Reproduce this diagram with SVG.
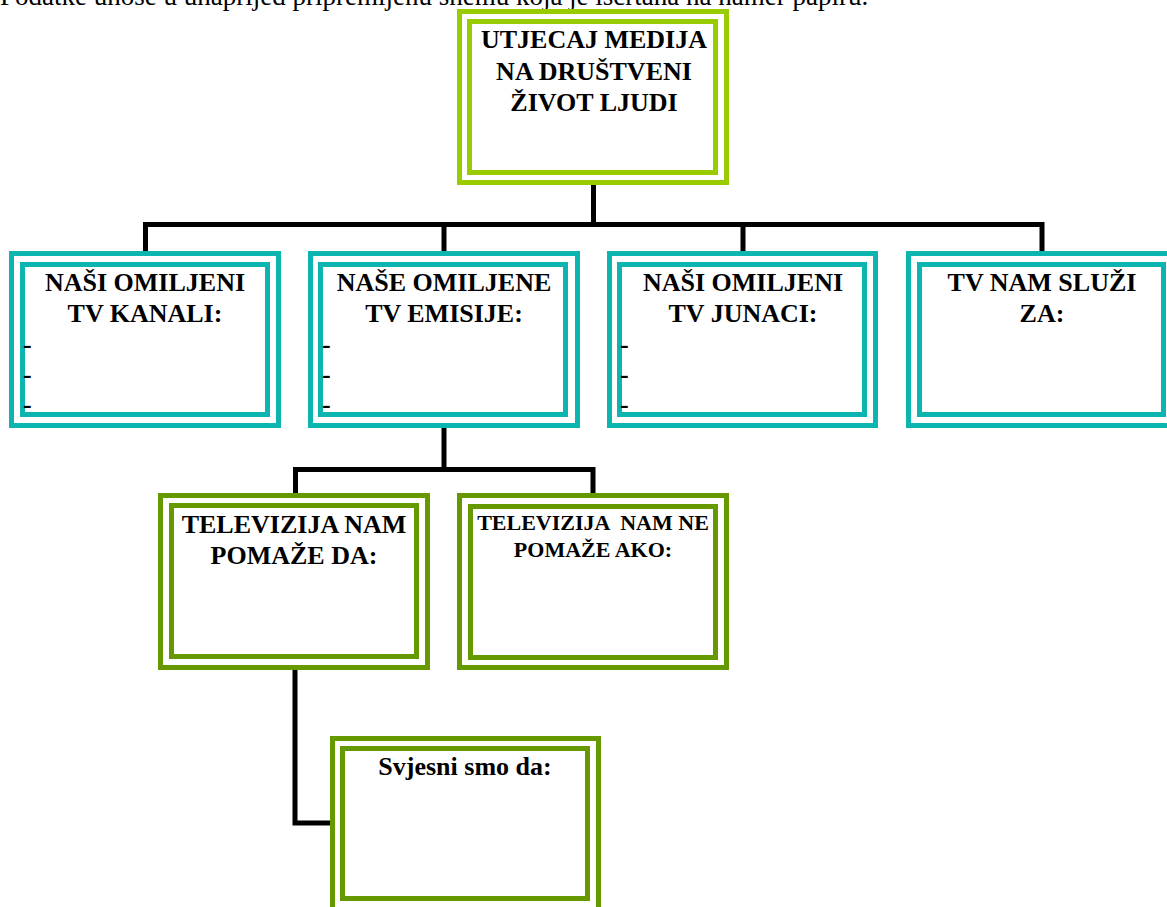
<svg xmlns="http://www.w3.org/2000/svg" width="1167" height="907" viewBox="0 0 1167 907">
<style>
.bg{fill:#ffffff}
.b{fill:#ffffff;stroke-width:5}
.lime{stroke:#99cc00}
.teal{stroke:#0db5b0}
.olive{stroke:#669900}
.t{font-family:"Liberation Serif","Times New Roman",serif;font-weight:bold;font-size:26px;fill:#000;text-anchor:middle}
.t2{font-size:22px}
.d{font-family:"Liberation Serif","Times New Roman",serif;font-weight:bold;font-size:26px;fill:#000}
.cap{font-family:"Liberation Serif","Times New Roman",serif;font-size:27px;fill:#000}
.c{fill:none;stroke:#000;stroke-width:5;stroke-linejoin:miter;stroke-linecap:butt}
</style>
<rect class="bg" x="0" y="0" width="1167" height="907"/>
<text class="cap" x="0" y="5">Podatke unose u unaprijed pripremljenu shemu koja je iscrtana na hamer papiru.</text>
<g id="connectors">
<path class="c" d="M593.5,184 V224.5 M145.5,251 V224.5 H1042 V251 M444,224.5 V251 M743,224.5 V251"/>
<path class="c" d="M444,428 V469.5 M295.5,493 V469.5 H593 V493"/>
<path class="c" d="M295,670 V823 H331"/>
</g>
<g id="node-top">
<rect class="b lime" x="459.5" y="11.5" width="267" height="171"/>
<rect class="b lime" x="469.5" y="21.5" width="246" height="151"/>
<text class="t" x="594" y="48">UTJECAJ MEDIJA</text>
<text class="t" x="594" y="80">NA DRUŠTVENI</text>
<text class="t" x="594" y="111">ŽIVOT LJUDI</text>
</g>
<g id="node-kanali">
<rect class="b teal" x="11.5" y="253.5" width="267" height="172"/>
<rect class="b teal" x="22.5" y="264.5" width="245" height="150"/>
<text class="t" x="145" y="291">NAŠI OMILJENI</text>
<text class="t" x="145" y="322">TV KANALI:</text>
<text class="d" x="23" y="353">-</text>
<text class="d" x="23" y="383">-</text>
<text class="d" x="23" y="413">-</text>
</g>
<g id="node-emisije">
<rect class="b teal" x="310.5" y="253.5" width="267" height="172"/>
<rect class="b teal" x="320.5" y="264.5" width="245" height="150"/>
<text class="t" x="444" y="291">NAŠE OMILJENE</text>
<text class="t" x="444" y="322">TV EMISIJE:</text>
<text class="d" x="322" y="353">-</text>
<text class="d" x="322" y="383">-</text>
<text class="d" x="322" y="413">-</text>
</g>
<g id="node-junaci">
<rect class="b teal" x="609.5" y="253.5" width="266" height="172"/>
<rect class="b teal" x="619.5" y="264.5" width="245" height="150"/>
<text class="t" x="743" y="291">NAŠI OMILJENI</text>
<text class="t" x="743" y="322">TV JUNACI:</text>
<text class="d" x="620" y="353">-</text>
<text class="d" x="620" y="383">-</text>
<text class="d" x="620" y="413">-</text>
</g>
<g id="node-sluzi">
<rect class="b teal" x="908.5" y="253.5" width="267" height="172"/>
<rect class="b teal" x="919.5" y="264.5" width="244" height="150"/>
<text class="t" x="1042" y="291">TV NAM SLUŽI</text>
<text class="t" x="1042" y="322">ZA:</text>
</g>
<g id="node-pomaze">
<rect class="b olive" x="160.5" y="495.5" width="267" height="172"/>
<rect class="b olive" x="171.5" y="505.5" width="245" height="151"/>
<text class="t" x="294" y="533">TELEVIZIJA NAM</text>
<text class="t" x="294" y="564">POMAŽE DA:</text>
</g>
<g id="node-ne-pomaze">
<rect class="b olive" x="459.5" y="495.5" width="267" height="172"/>
<rect class="b olive" x="470.5" y="506.5" width="245" height="151"/>
<text class="t t2" x="593" y="530" xml:space="preserve">TELEVIZIJA  NAM NE</text>
<text class="t t2" x="593" y="557">POMAŽE AKO:</text>
</g>
<g id="node-svjesni">
<rect class="b olive" x="332.5" y="738.5" width="266" height="172"/>
<rect class="b olive" x="342.5" y="748.5" width="245" height="150"/>
<text class="t" x="465" y="775">Svjesni smo da:</text>
</g>
</svg>
